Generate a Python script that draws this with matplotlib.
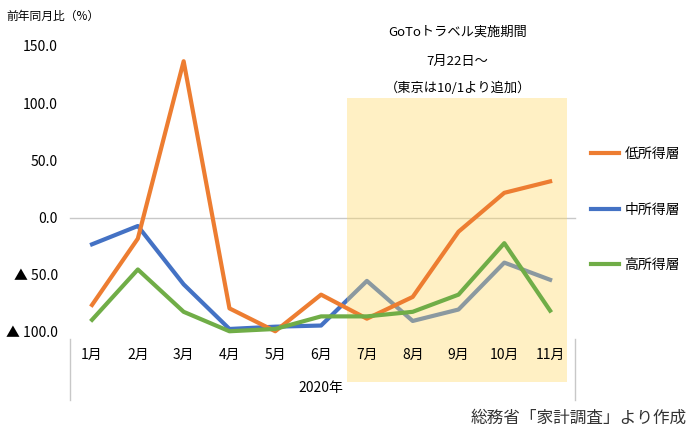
import matplotlib.pyplot as plt
from matplotlib.patches import Rectangle

plt.rcParams['font.family'] = ['Noto Sans CJK JP', 'DejaVu Sans']

months = [f"{m}月" for m in range(1, 12)]
low = [-76, -18, 137, -79, -99, -67, -88, -69, -12, 22, 32]
mid = [-23, -7, -58, -97, -95, -94, -55, -90, -80, -39, -54]
high = [-89, -45, -82, -99, -97, -86, -86, -82, -67, -22, -81]
yticks = [150, 100, 50, 0, -50, -100]
ylabels = ["150.0", "100.0", "50.0", "0.0", "▲ 50.0", "▲ 100.0"]

fig = plt.figure(figsize=(6.88, 4.31), dpi=100)
ax = fig.add_axes([0, 0, 1, 1])
ax.set_xlim(-1.009, 14.01)
ax.set_ylim(-185.3, 191.4)
ax.axis("off")

x = list(range(1, 12))
c_low, c_mid, c_high = "#ED7D31", "#4472C4", "#70AD47"
ax.plot([0.52, 11.55], [0, 0], color="#c8c8c8", lw=1, zorder=1)
ax.plot(x, mid, color=c_mid, lw=3, zorder=2)
ax.add_patch(Rectangle((6.57, -143), 4.8, 248, color="#FFD966", alpha=0.38, lw=0, zorder=3))
ax.plot(x, low, color=c_low, lw=3, zorder=4)
ax.plot(x, high, color=c_high, lw=3, zorder=4)

for v, lab in zip(yticks, ylabels):
    ax.text(0.25, v, lab, ha="right", va="center", fontsize=10, color="#000")
ax.text(-0.87, 177, "前年同月比（%）", ha="left", va="center", fontsize=8.5)
for xi, m in zip(x, months):
    ax.text(xi, -119, m, ha="center", va="center", fontsize=10)
for xv in (0.52, 11.55):
    ax.plot([xv, xv], [-106, -159], color="#c8c8c8", lw=1)
ax.text(6.0, -148, "2020年", ha="center", va="center", fontsize=10)
ax.text(8.98, 163, "GoToトラベル実施期間", ha="center", va="center", fontsize=9.5)
ax.text(8.98, 138, "7月22日～", ha="center", va="center", fontsize=9.5)
ax.text(8.98, 114, "（東京は10/1より追加）", ha="center", va="center", fontsize=9.5)
ax.text(13.98, -174, "総務省「家計調査」より作成", ha="right", va="center", fontsize=12, color="#333")

for yv, lab, c in [(57, "低所得層", c_low), (8, "中所得層", c_mid), (-40, "高所得層", c_high)]:
    ax.plot([11.9, 12.5], [yv, yv], color=c, lw=3)
    ax.text(12.62, yv, lab, ha="left", va="center", fontsize=10)

fig.savefig("out.png", dpi=100)
